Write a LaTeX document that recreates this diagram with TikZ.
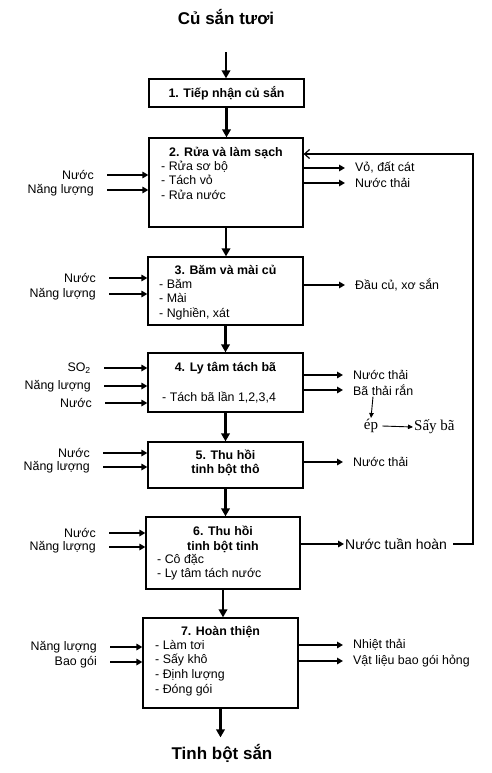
\documentclass[tikz,border=0pt]{standalone}
\usepackage{fontspec}
\setmainfont{Liberation Sans}
\newfontfamily\timesfont{Liberation Serif}
\usetikzlibrary{arrows.meta}

\begin{document}
\begin{tikzpicture}[x=1pt, y=-1pt, >=Triangle,
    box/.style={draw, line width=1.3pt, inner sep=0pt},
    head/.style={font=\bfseries\fontsize{12.4}{14.5}\selectfont, align=center, inner sep=0pt},
    steps/.style={font=\fontsize{12.4}{14.6}\selectfont, align=left, anchor=north west, inner sep=0pt},
    inlab/.style={font=\fontsize{12.4}{14}\selectfont, anchor=east, inner sep=1pt},
    outlab/.style={font=\fontsize{12.4}{14}\selectfont, anchor=west, inner sep=1pt},
    main/.style={-{Triangle[length=8pt,width=8.5pt]}, line width=2.6pt},
    side/.style={-{Triangle[length=6pt,width=6.5pt]}, line width=2pt},
    thin/.style={-{Triangle[length=5pt,width=4.5pt]}, line width=0.9pt}]
    \useasboundingbox[fill=white] (0,0) rectangle (492,773);

    % Raw material and product
    \node[font=\bfseries\fontsize{17}{20}\selectfont] (raw) at (226,17) {Củ sắn tươi};
    \node[font=\bfseries\fontsize{17}{20}\selectfont] (prod) at (222,753) {Tinh bột sắn};

    % Process boxes
    \node[box, minimum width=155, minimum height=28] (b1) at (226.5,93) {};
    \node[box, minimum width=154, minimum height=89] (b2) at (226,182.5) {};
    \node[box, minimum width=155, minimum height=68] (b3) at (225.5,291) {};
    \node[box, minimum width=155, minimum height=59] (b4) at (225.5,382.5) {};
    \node[box, minimum width=155, minimum height=46] (b5) at (225.5,465) {};
    \node[box, minimum width=154, minimum height=72] (b6) at (223,553) {};
    \node[box, minimum width=155, minimum height=90] (b7) at (220.5,663) {};

    % Box texts
    \node[head] (h1) at (226.5,93) {1. Tiếp nhận củ sắn};
    \node[head] (h2) at (226,153) {2. Rửa và làm sạch};
    \node[steps] (s2) at (161,160.5) {- Rửa sơ bộ\\- Tách vỏ\\- Rửa nước};
    \node[head] (h3) at (225.5,270) {3. Băm và mài củ};
    \node[steps] (s3) at (159,279) {- Băm\\- Mài\\- Nghiền, xát};
    \node[head] (h4) at (225.5,368) {4. Ly tâm tách bã};
    \node[steps] (s4) at (162,392) {- Tách bã lần 1,2,3,4};
    \node[head] (h5) at (225.5,463) {5. Thu hồi\\tinh bột thô};
    \node[head] (h6) at (223,539.5) {6. Thu hồi\\tinh bột tinh};
    \node[steps] (s6) at (157,554) {- Cô đặc\\- Ly tâm tách nước};
    \node[head] (h7) at (220.5,632) {7. Hoàn thiện};
    \node[steps] (s7) at (155,640) {- Làm tơi\\- Sấy khô\\- Định lượng\\- Đóng gói};

    % Main flow
    \draw[main] ([yshift=-24pt]raw.south) -- (raw.south |- b1.north);
    \foreach \a/\b in {b1/b2,b2/b3,b3/b4,b4/b5,b5/b6,b6/b7}
        \draw[main] (\a.south) -- (\a.south |- \b.north);
    \draw[main] (b7.south) -- ([yshift=3pt]prod.north -| b7.south);

    % Inputs
    \node[inlab] (i2a) at (95,175) {Nước};
    \node[inlab] (i2b) at (95,190) {Năng lượng};
    \node[inlab] (i3a) at (97,278) {Nước};
    \node[inlab] (i3b) at (97,294) {Năng lượng};
    \node[inlab] (i4a) at (92,368) {SO\textsubscript{2}};
    \node[inlab] (i4b) at (92,386) {Năng lượng};
    \node[inlab] (i4c) at (93,403) {Nước};
    \node[inlab] (i5a) at (91,453) {Nước};
    \node[inlab] (i5b) at (91,467) {Năng lượng};
    \node[inlab] (i6a) at (97,533) {Nước};
    \node[inlab] (i6b) at (97,547) {Năng lượng};
    \node[inlab] (i7a) at (98,647) {Năng lượng};
    \node[inlab] (i7b) at (98,662) {Bao gói};
    \foreach \i/\b in {i2a/b2,i2b/b2,i3a/b3,i3b/b3,i4a/b4,i4b/b4,i4c/b4,i5a/b5,i5b/b5,i6a/b6,i6b/b6,i7a/b7,i7b/b7}
        \draw[side] ([xshift=12pt]\i.east) -- (\i -| \b.west);

    % Outputs
    \node[outlab] (o2a) at (354,168) {Vỏ, đất cát};
    \node[outlab] (o2b) at (354,183) {Nước thải};
    \node[outlab] (o3) at (354,285) {Đầu củ, xơ sắn};
    \node[outlab] (o4a) at (352,375) {Nước thải};
    \node[outlab] (o4b) at (352,390) {Bã thải rắn};
    \node[outlab] (o5) at (352,462) {Nước thải};
    \node[outlab] (o7a) at (352,645) {Nhiệt thải};
    \node[outlab] (o7b) at (352,661) {Vật liệu bao gói hỏng};
    \foreach \o/\b in {o2a/b2,o2b/b2,o3/b3,o4a/b4,o4b/b4,o5/b5,o7a/b7,o7b/b7}
        \draw[side] (\o -| \b.east) -- ([xshift=-9pt]\o.west);

    % Solid waste treatment
    \node[font=\timesfont\fontsize{15}{17}\selectfont, inner sep=1pt] (ep) at (371,426) {ép};
    \node[font=\timesfont\fontsize{15}{17}\selectfont, anchor=west, inner sep=1pt] (say) at (413,427) {Sấy bã};
    \draw[thin] ([xshift=2pt]o4b.south west -| ep.north) -- (ep.north);
    \draw[thin] ([xshift=3pt]ep.east) -- (say.west);

    % Recycled water
    \node[outlab, font=\fontsize{14}{16}\selectfont] (o6) at (344,544) {Nước tuần hoàn};
    \draw[side] (b6.east |- o6) -- (o6.west);
    \coordinate (fb) at (473,154);
    \draw[line width=1.2pt, -{Straight Barb[length=5pt,width=9pt]}]
        ([xshift=5pt]o6.east) -- (o6 -| fb) -- (fb) -- (fb -| b2.east);
\end{tikzpicture}
\end{document}
